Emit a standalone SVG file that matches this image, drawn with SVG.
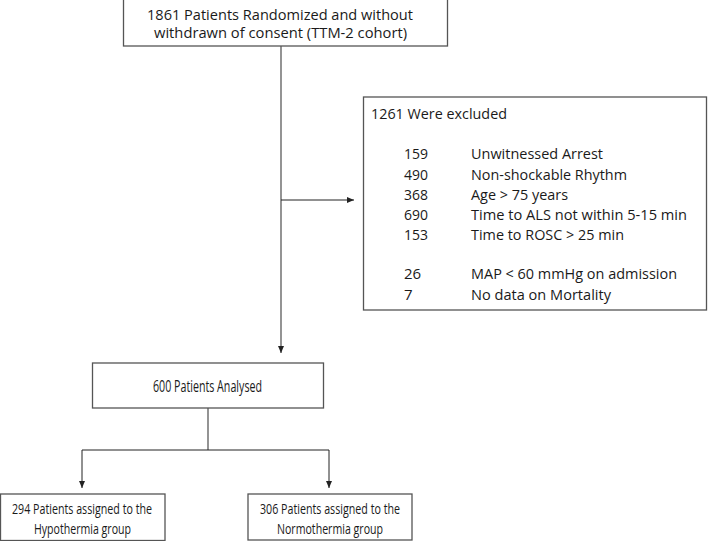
<svg xmlns="http://www.w3.org/2000/svg" width="708" height="541" viewBox="0 0 708 541">
<defs>
<style>
.box{fill:#fff;stroke:#555;stroke-width:1.3}
.t{font-family:"Open Sans","Liberation Sans",sans-serif;font-size:15px;fill:#1a1a1a}
.b{font-size:16.5px}
.s{font-size:15px}
.ln{fill:none;stroke:#666;stroke-width:1.4}
.ar{fill:none;stroke:#222;stroke-width:1}
</style>
<marker id="ah" markerWidth="8" markerHeight="6" refX="7" refY="3" orient="auto" markerUnits="userSpaceOnUse">
<path d="M0,0 L7,3 L0,6 Z" fill="#222"/>
</marker>
</defs>
<rect width="708" height="541" fill="#fff"/>
<g id="connectors">
<line class="ln" x1="281" y1="46" x2="281" y2="200"/>
<line class="ln" x1="281" y1="200" x2="281" y2="353" stroke="#333" marker-end="url(#ah)"/>
<line class="ar" x1="281" y1="200" x2="354" y2="200" marker-end="url(#ah)"/>
<line class="ln" x1="208" y1="408" x2="208" y2="450"/>
<line class="ar" x1="82" y1="450" x2="329" y2="450"/>
<line class="ar" x1="82" y1="450" x2="82" y2="488" marker-end="url(#ah)"/>
<line class="ar" x1="329" y1="450" x2="329" y2="488" marker-end="url(#ah)"/>
</g>
<g id="randomized">
<rect class="box" x="123.5" y="-1" width="324" height="47"/>
<text class="t" x="147" y="19.5" textLength="266" lengthAdjust="spacingAndGlyphs">1861 Patients Randomized and without</text>
<text class="t" x="154" y="38" textLength="253" lengthAdjust="spacingAndGlyphs">withdrawn of consent (TTM-2 cohort)</text>
</g>
<g id="excluded">
<rect class="box" x="363.5" y="97" width="343" height="213"/>
<text class="t" x="371" y="119" textLength="136" lengthAdjust="spacingAndGlyphs">1261 Were excluded</text>
<text class="t" x="404" y="159" textLength="24" lengthAdjust="spacingAndGlyphs">159</text>
<text class="t" x="471" y="159" textLength="132" lengthAdjust="spacingAndGlyphs">Unwitnessed Arrest</text>
<text class="t" x="404" y="180" textLength="24" lengthAdjust="spacingAndGlyphs">490</text>
<text class="t" x="471" y="180" textLength="156" lengthAdjust="spacingAndGlyphs">Non-shockable Rhythm</text>
<text class="t" x="404" y="200" textLength="24" lengthAdjust="spacingAndGlyphs">368</text>
<text class="t" x="471" y="200" textLength="97" lengthAdjust="spacingAndGlyphs">Age &gt; 75 years</text>
<text class="t" x="404" y="220" textLength="24" lengthAdjust="spacingAndGlyphs">690</text>
<text class="t" x="471" y="220" textLength="216" lengthAdjust="spacingAndGlyphs">Time to ALS not within 5-15 min</text>
<text class="t" x="404" y="240" textLength="24" lengthAdjust="spacingAndGlyphs">153</text>
<text class="t" x="471" y="240" textLength="153" lengthAdjust="spacingAndGlyphs">Time to ROSC &gt; 25 min</text>
<text class="t" x="404" y="279">26</text>
<text class="t" x="471" y="279" textLength="206" lengthAdjust="spacingAndGlyphs">MAP &lt; 60 mmHg on admission</text>
<text class="t" x="404" y="300">7</text>
<text class="t" x="471" y="300" textLength="140" lengthAdjust="spacingAndGlyphs">No data on Mortality</text>
</g>
<g id="analysed">
<rect class="box" x="92.5" y="363" width="231" height="45"/>
<text class="t b" x="153" y="392" textLength="109" lengthAdjust="spacingAndGlyphs">600 Patients Analysed</text>
</g>
<g id="hypothermia">
<rect class="box" x="0.5" y="494" width="164.5" height="46.5"/>
<text class="t s" x="12" y="513.5" textLength="140" lengthAdjust="spacingAndGlyphs">294 Patients assigned to the</text>
<text class="t s" x="34" y="533.5" textLength="97" lengthAdjust="spacingAndGlyphs">Hypothermia group</text>
</g>
<g id="normothermia">
<rect class="box" x="248" y="494" width="164" height="46"/>
<text class="t s" x="260" y="513.5" textLength="140" lengthAdjust="spacingAndGlyphs">306 Patients assigned to the</text>
<text class="t s" x="277" y="533.5" textLength="106" lengthAdjust="spacingAndGlyphs">Normothermia group</text>
</g>
</svg>
